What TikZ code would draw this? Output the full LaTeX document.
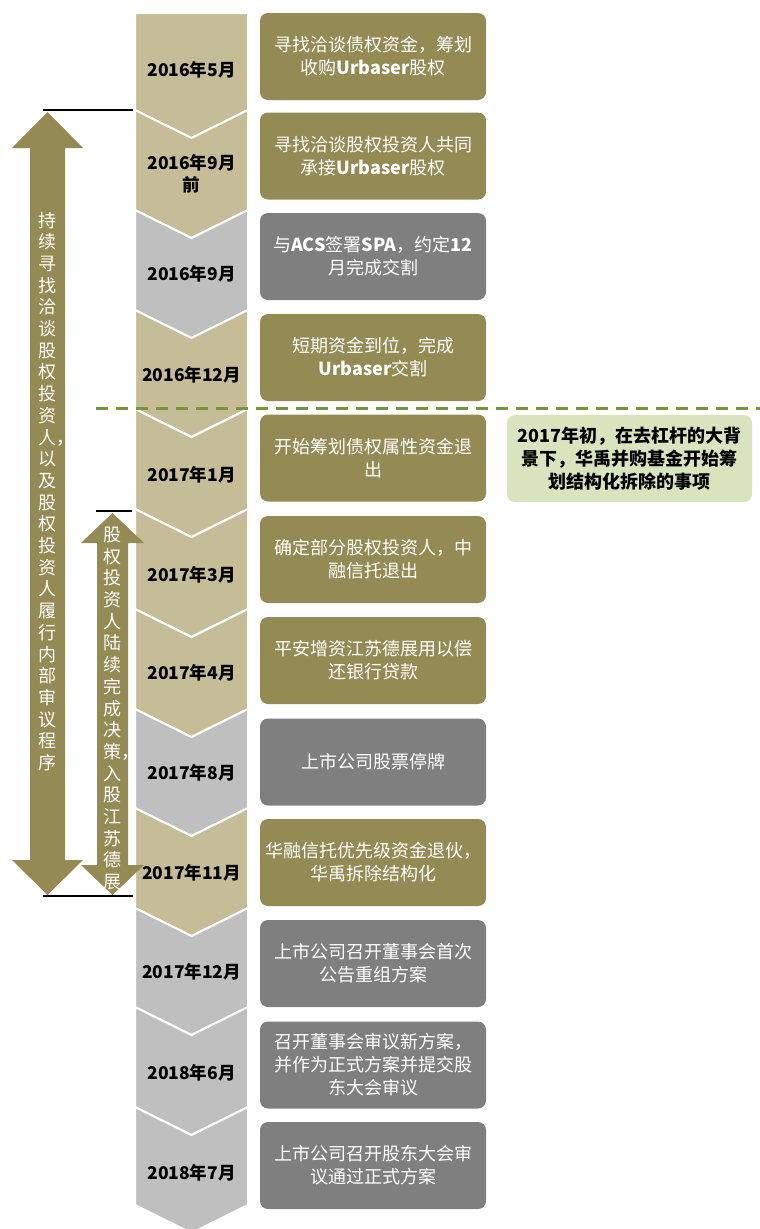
\documentclass[tikz,border=0pt]{standalone}
\usepackage{fontspec}
\setmainfont{Noto Sans CJK SC}
\usepackage{tikz}
\definecolor{tanc}{HTML}{C4BD97}
\definecolor{greyc}{HTML}{BFBFBF}
\definecolor{olivec}{HTML}{948A54}
\definecolor{darkc}{HTML}{7F7F7F}
\definecolor{notec}{HTML}{D7E4BD}
\definecolor{linec}{HTML}{77933C}

\begin{document}
\begin{tikzpicture}[x=1pt, y=-1pt,
        tanseg/.style = {fill=tanc, draw=white, line width=2pt},
        greyseg/.style = {fill=greyc, draw=white, line width=2pt},
        date/.style = {align=center, font=\fontsize{17.5}{22}\selectfont\bfseries},
        obox/.style = {rounded corners=8pt, fill=olivec, text=white, minimum width=226pt, minimum height=87pt, inner sep=0pt, align=center, font=\fontsize{18}{23}\selectfont},
        gbox/.style = {obox, fill=darkc},
        vtext/.style = {align=center, text=white, inner sep=0pt, font=\fontsize{18}{21.7}\selectfont}]
        \useasboundingbox (0,0) rectangle (760,1229);

        \filldraw[tanseg] (135,13) -- (248,13) -- (248,110) -- (191.5,138) -- (135,110) -- cycle;
        \filldraw[tanseg] (135,110) -- (191.5,138) -- (248,110) -- (248,210) -- (191.5,238) -- (135,210) -- cycle;
        \filldraw[greyseg] (135,210) -- (191.5,238) -- (248,210) -- (248,310) -- (191.5,338) -- (135,310) -- cycle;
        \filldraw[tanseg] (135,310) -- (191.5,338) -- (248,310) -- (248,409) -- (191.5,437) -- (135,409) -- cycle;
        \filldraw[tanseg] (135,409) -- (191.5,437) -- (248,409) -- (248,509) -- (191.5,537) -- (135,509) -- cycle;
        \filldraw[tanseg] (135,509) -- (191.5,537) -- (248,509) -- (248,609) -- (191.5,637) -- (135,609) -- cycle;
        \filldraw[tanseg] (135,609) -- (191.5,637) -- (248,609) -- (248,709) -- (191.5,737) -- (135,709) -- cycle;
        \filldraw[greyseg] (135,709) -- (191.5,737) -- (248,709) -- (248,808) -- (191.5,836) -- (135,808) -- cycle;
        \filldraw[tanseg] (135,808) -- (191.5,836) -- (248,808) -- (248,908) -- (191.5,936) -- (135,908) -- cycle;
        \filldraw[greyseg] (135,908) -- (191.5,936) -- (248,908) -- (248,1007) -- (191.5,1035) -- (135,1007) -- cycle;
        \filldraw[greyseg] (135,1007) -- (191.5,1035) -- (248,1007) -- (248,1107) -- (191.5,1135) -- (135,1107) -- cycle;
        \filldraw[greyseg] (135,1107) -- (191.5,1135) -- (248,1107) -- (248,1205) -- (191.5,1233) -- (135,1205) -- cycle;

        \node[date] (d1) at (191.5,70) {2016年5月};
        \node[date] (d2) at (191.5,174) {2016年9月\\前};
        \node[date] (d3) at (191.5,274) {2016年9月};
        \node[date] (d4) at (191.5,375) {2016年12月};
        \node[date] (d5) at (191.5,475) {2017年1月};
        \node[date] (d6) at (191.5,575) {2017年3月};
        \node[date] (d7) at (191.5,673) {2017年4月};
        \node[date] (d8) at (191.5,773) {2017年8月};
        \node[date] (d9) at (191.5,873) {2017年11月};
        \node[date] (d10) at (191.5,972) {2017年12月};
        \node[date] (d11) at (191.5,1073) {2018年6月};
        \node[date] (d12) at (191.5,1173) {2018年7月};

        \node[obox] (b1) at (373,56.5) {寻找洽谈债权资金，筹划\\收购\textbf{Urbaser}股权};
        \node[obox] (b2) at (373,156) {寻找洽谈股权投资人共同\\承接\textbf{Urbaser}股权};
        \node[gbox] (b3) at (373,256.5) {与\textbf{ACS}签署\textbf{SPA}，约定\textbf{12}\\月完成交割};
        \node[obox] (b4) at (373,357.5) {短期资金到位，完成\\\textbf{Urbaser}交割};
        \node[obox] (b5) at (373,458) {开始筹划债权属性资金退\\出};
        \node[obox] (b6) at (373,559.5) {确定部分股权投资人，中\\融信托退出};
        \node[obox] (b7) at (373,660.5) {平安增资江苏德展用以偿\\还银行贷款};
        \node[gbox] (b8) at (373,762) {上市公司股票停牌};
        \node[obox] (b9) at (373,862.5) {华融信托优先级资金退伙，\\华禹拆除结构化};
        \node[gbox] (b10) at (373,963.5) {上市公司召开董事会首次\\公告重组方案};
        \node[gbox] (b11) at (373,1065) {召开董事会审议新方案，\\并作为正式方案并提交股\\东大会审议};
        \node[gbox] (b12) at (373,1165.5) {上市公司召开股东大会审\\议通过正式方案};

        \node[obox, fill=notec, text=black, minimum width=245pt, font=\fontsize{18}{23}\selectfont\bfseries] (note) at (629.5,458.5) {2017年初，在去杠杆的大背\\景下，华禹并购基金开始筹\\划结构化拆除的事项};

        \draw[linec, line width=3pt, dash pattern=on 12pt off 8pt] (96,408) -- (760,408);

        \fill[olivec] (47.5,112) -- (83,148) -- (65,148) -- (65,860) -- (83,860) -- (47.5,895) -- (12,860) -- (30,860) -- (30,148) -- (12,148) -- cycle;
        \fill[olivec] (112.5,513) -- (144,543) -- (128,543) -- (128,865) -- (144,865) -- (112.5,895) -- (81,865) -- (97,865) -- (97,543) -- (81,543) -- cycle;

        \draw[line width=1.5pt] (43,110) -- (133,110);
        \draw[line width=1.5pt] (96,511) -- (132,511);
        \draw[line width=1.5pt] (43,896) -- (133,896);

        \node[vtext] (long) at (47.5,491.5) {持\\续\\寻\\找\\洽\\谈\\股\\权\\投\\资\\人\rlap{，}\\以\\及\\股\\权\\投\\资\\人\\履\\行\\内\\部\\审\\议\\程\\序};
        \node[vtext] (short) at (112.5,708.5) {股\\权\\投\\资\\人\\陆\\续\\完\\成\\决\\策\rlap{，}\\入\\股\\江\\苏\\德\\展};
\end{tikzpicture}
\end{document}
